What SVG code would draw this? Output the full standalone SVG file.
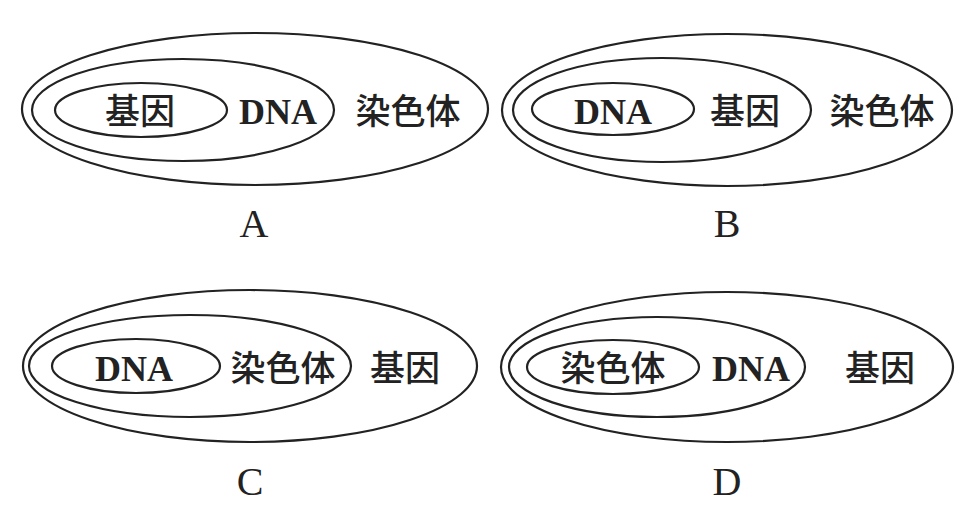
<svg xmlns="http://www.w3.org/2000/svg" width="955" height="522" viewBox="0 0 955 522">
<style>
ellipse{fill:none;stroke:#222;stroke-width:2.2}
.l{font-family:"Liberation Serif","Noto Sans CJK SC",serif;font-size:36px;font-weight:bold;fill:#222;text-anchor:middle}
.c{font-family:"Noto Sans CJK SC",sans-serif;font-size:35px;font-weight:500;fill:#222;text-anchor:middle}
.t{font-family:"Liberation Serif",serif;font-size:40px;fill:#222;text-anchor:middle}
</style>
<rect width="955" height="522" fill="#fff"/>
<g id="A">
<ellipse cx="255" cy="109" rx="233" ry="76"/>
<ellipse cx="183" cy="110" rx="151" ry="51"/>
<ellipse cx="141" cy="110" rx="86" ry="27"/>
<text class="c" x="140" y="124">基因</text>
<text class="l" x="278" y="124">DNA</text>
<text class="c" x="408" y="124">染色体</text>
<text class="t" x="254" y="237">A</text>
</g>
<g id="B">
<ellipse cx="727" cy="110" rx="225" ry="76"/>
<ellipse cx="662" cy="110" rx="149" ry="52"/>
<ellipse cx="613" cy="109" rx="81" ry="26"/>
<text class="l" x="613" y="124">DNA</text>
<text class="c" x="745" y="124">基因</text>
<text class="c" x="882" y="124">染色体</text>
<text class="t" x="727" y="237">B</text>
</g>
<g id="C">
<ellipse cx="250" cy="366" rx="227" ry="76"/>
<ellipse cx="190" cy="366" rx="161" ry="51"/>
<ellipse cx="136" cy="366" rx="84" ry="27"/>
<text class="l" x="134" y="381">DNA</text>
<text class="c" x="283" y="381">染色体</text>
<text class="c" x="405" y="381">基因</text>
<text class="t" x="250" y="495">C</text>
</g>
<g id="D">
<ellipse cx="727" cy="367" rx="226" ry="75"/>
<ellipse cx="657" cy="367" rx="148" ry="50"/>
<ellipse cx="613" cy="367" rx="86" ry="27"/>
<text class="c" x="613" y="381">染色体</text>
<text class="l" x="751" y="381">DNA</text>
<text class="c" x="880" y="381">基因</text>
<text class="t" x="727" y="495">D</text>
</g>
<g id="connectors"></g>
</svg>
